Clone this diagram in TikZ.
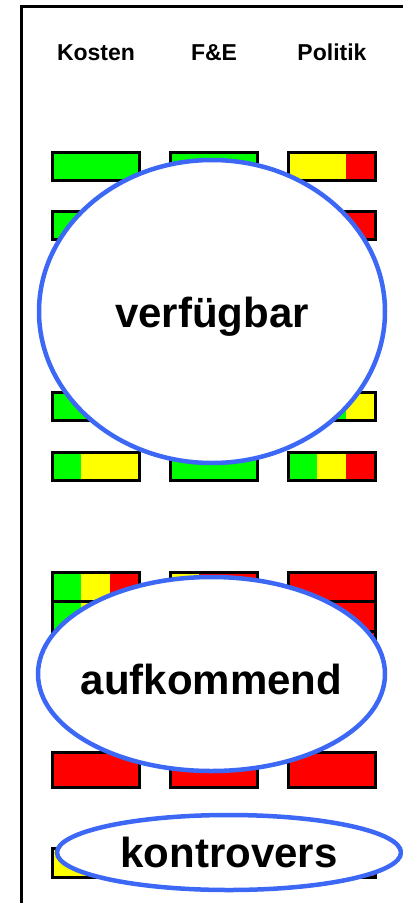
\documentclass[tikz,border=0pt]{standalone}
\usepackage{fontspec}
\setmainfont{Liberation Sans}
\usetikzlibrary{shapes.geometric}

\definecolor{barGreen}{RGB}{0,255,0}
\definecolor{barYellow}{RGB}{255,255,0}
\definecolor{barRed}{RGB}{255,0,0}
\definecolor{ringBlue}{RGB}{61,104,246}

\tikzset{
  barframe/.style={draw=black, line width=3pt},
  head/.style={anchor=base, font=\bfseries\fontsize{23}{27}\selectfont},
  ring/.style={ellipse, draw=ringBlue, line width=4.5pt, fill=white, inner sep=0pt,
    font=\bfseries\fontsize{42}{50}\selectfont}
}

% x, y, height, colours of the three thirds
\newcommand{\ratingbar}[6]{%
  \fill[#4] (#1,#2) rectangle ++(29,#3);
  \fill[#5] (#1+29,#2) rectangle ++(29,#3);
  \fill[#6] (#1+58,#2) rectangle ++(29,#3);
  \draw[barframe] (#1,#2) rectangle ++(87,#3);
}

\begin{document}
\begin{tikzpicture}[x=1pt, y=-1pt]
\def\xK{52}
\def\xF{170}
\def\xP{288}

\useasboundingbox (0,0) rectangle (403,903);
\clip (0,0) rectangle (403,903);

\draw[line width=3pt] (21,910) -- (21,6) -- (410,6);

\node[head] (kost) at (96,60) {Kosten};
\node[head] (fue) at (214,60) {F\&E};
\node[head] (pol) at (332,60) {Politik};

% verfuegbar
\ratingbar{\xK}{152}{28}{barGreen}{barGreen}{barGreen}
\ratingbar{\xF}{152}{28}{barGreen}{barGreen}{barGreen}
\ratingbar{\xP}{152}{28}{barYellow}{barYellow}{barRed}
\ratingbar{\xK}{211}{28}{barGreen}{barGreen}{barGreen}
\ratingbar{\xP}{211}{28}{barYellow}{barYellow}{barRed}
\ratingbar{\xK}{392}{28}{barGreen}{barGreen}{barGreen}
\ratingbar{\xP}{392}{28}{barGreen}{barGreen}{barYellow}
\ratingbar{\xK}{452}{28}{barGreen}{barYellow}{barYellow}
\ratingbar{\xF}{452}{28}{barGreen}{barGreen}{barGreen}
\ratingbar{\xP}{452}{28}{barGreen}{barYellow}{barRed}

% aufkommend
\ratingbar{\xK}{572}{29.5}{barGreen}{barYellow}{barRed}
\ratingbar{\xF}{572}{29.5}{barYellow}{barRed}{barRed}
\ratingbar{\xP}{572}{29.5}{barRed}{barRed}{barRed}
\ratingbar{\xK}{601.5}{29.5}{barGreen}{barYellow}{barRed}
\ratingbar{\xP}{601.5}{29.5}{barRed}{barRed}{barRed}
\ratingbar{\xP}{631}{29.5}{barRed}{barRed}{barRed}
\ratingbar{\xK}{752}{35}{barRed}{barRed}{barRed}
\ratingbar{\xF}{752}{35}{barRed}{barRed}{barRed}
\ratingbar{\xP}{752}{35}{barRed}{barRed}{barRed}

% kontrovers
\ratingbar{\xK}{848}{29}{barYellow}{barYellow}{barYellow}
\ratingbar{\xP}{848}{29}{barYellow}{barYellow}{barRed}

\node[ring, minimum width=346pt, minimum height=303pt, text height=41pt, text depth=9pt]
  (avail) at (212,311.5) {verfügbar};
\node[ring, minimum width=347pt, minimum height=194pt, inner xsep=-70pt,
  text height=40pt, text depth=0pt] (emerg) at (211.5,674) {aufkommend};
\node[ring, minimum width=344pt, minimum height=75pt] (contr) at (229,852.5) {kontrovers};
\end{tikzpicture}
\end{document}
